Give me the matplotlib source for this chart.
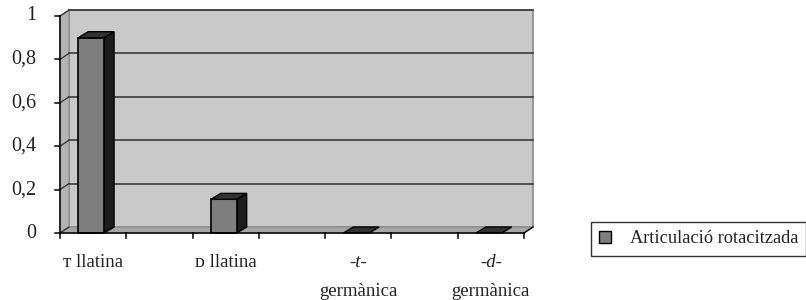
import matplotlib
matplotlib.use("Agg")
import matplotlib.pyplot as plt
from matplotlib.patches import Polygon, Rectangle, Patch

# ---- data ----
cat_line1 = ["ᴛ llatina", "ᴅ llatina", "-t-", "-d-"]
cat_line2 = ["", "", "germànica", "germànica"]
cat_italic = [False, False, True, True]
values = [0.9, 0.155, 0.0, 0.0]
series_name = "Articulació rotacitzada"
yticks = [0, 0.2, 0.4, 0.6, 0.8, 1.0]
ytick_labels = ["0", "0,2", "0,4", "0,6", "0,8", "1"]

FONT = ["Liberation Serif", "DejaVu Serif", "DejaVu Sans"]
plt.rcParams["font.family"] = FONT

W, H = 806, 300
fig = plt.figure(figsize=(W / 100, H / 100), dpi=100)
L, R, B, T = 60, 524, 233, 16
ax = fig.add_axes([L / W, (H - B) / H, (R - L) / W, (B - T) / H])
ncat = len(values)
xmax = 2 * ncat - 1
ax.set_xlim(0, xmax)
ax.set_ylim(0, 1)
ax.axis("off")

pxx = (R - L) / xmax
pxy = (B - T)
dx = 9 / pxx
dy = 6 / pxy

wall = "#c9c9c9"
side = "#b3b3b3"
floor = "#a6a6a6"

# back wall
ax.add_patch(Rectangle((dx, dy), xmax, 1 - 0.0, facecolor=wall, edgecolor="#8a8a8a",
                       lw=1.2, clip_on=False, zorder=1))
# left side wall
ax.add_patch(Polygon([(0, 0), (dx, dy), (dx, 1 + dy), (0, 1)], closed=True,
                     facecolor=side, edgecolor="#8a8a8a", lw=0.8, clip_on=False, zorder=1))
# floor
ax.add_patch(Polygon([(0, 0), (xmax, 0), (xmax + dx, dy), (dx, dy)], closed=True,
                     facecolor=floor, edgecolor="#8a8a8a", lw=0.8, clip_on=False, zorder=1))

# gridlines
for v in yticks[1:]:
    ax.plot([dx, xmax + dx], [v + dy, v + dy], color="#303030", lw=1.1, clip_on=False, zorder=2)
for v in yticks:
    ax.plot([0, dx], [v, v + dy], color="#303030", lw=0.9, clip_on=False, zorder=2)

# axes lines
ax.plot([0, 0], [0, 1], color="black", lw=1.1, clip_on=False, zorder=6)
ax.plot([0, xmax], [0, 0], color="black", lw=1.1, clip_on=False, zorder=6)
ax.plot([xmax, xmax + dx], [0, dy], color="black", lw=1.0, clip_on=False, zorder=6)
tick_y = 5 / pxy
tick_x = 5 / pxx
for k in range(xmax + 1):
    ax.plot([k, k], [0, -tick_y], color="black", lw=1.1, clip_on=False, zorder=6)
for v, lab in zip(yticks, ytick_labels):
    ax.plot([-tick_x, 0], [v, v], color="black", lw=1.1, clip_on=False, zorder=6)
    ax.text(-24 / pxx, v, lab, ha="right", va="center", fontsize=14.5, color="#222222")

# bars
bw = 0.39
bdx = 10 / pxx
bdy = 6 / pxy
for i, v in enumerate(values):
    c = 2 * i + 0.47
    x0, x1 = c - bw / 2, c + bw / 2
    if v > 0:
        ax.add_patch(Polygon([(x1, 0), (x1 + bdx, bdy), (x1 + bdx, v + bdy), (x1, v)],
                             closed=True, facecolor="#1e1e1e", edgecolor="black", lw=1,
                             clip_on=False, zorder=4))
        ax.add_patch(Rectangle((x0, 0), bw, v, facecolor="#7e7e7e", edgecolor="black",
                               lw=1.2, clip_on=False, zorder=5))
    ax.add_patch(Polygon([(x0, v), (x1, v), (x1 + bdx, v + bdy), (x0 + bdx, v + bdy)],
                         closed=True, facecolor="#333333", edgecolor="black", lw=1,
                         clip_on=False, zorder=5))

# category labels
for i in range(ncat):
    c = 2 * i + 0.5
    ax.text(c, -21 / pxy, cat_line1[i], ha="center", va="top", fontsize=13.5,
            style="italic" if cat_italic[i] else "normal", color="#222222")
    if cat_line2[i]:
        ax.text(c, -50 / pxy, cat_line2[i], ha="center", va="top", fontsize=13.5,
                color="#222222")

# legend
leg = fig.legend(handles=[Patch(facecolor="#7e7e7e", edgecolor="black", lw=1)],
                 labels=[series_name], loc="upper left",
                 bbox_to_anchor=(591 / W, 1 - 222 / H), borderaxespad=0,
                 fancybox=False, frameon=True, fontsize=13.2,
                 handlelength=0.65, handleheight=0.65, handletextpad=1.0,
                 borderpad=0.45)
leg.get_frame().set_edgecolor("black")
leg.get_frame().set_linewidth(1.0)
for t in leg.get_texts():
    t.set_color("#222222")

fig.savefig("out.png", dpi=100, facecolor="white")
